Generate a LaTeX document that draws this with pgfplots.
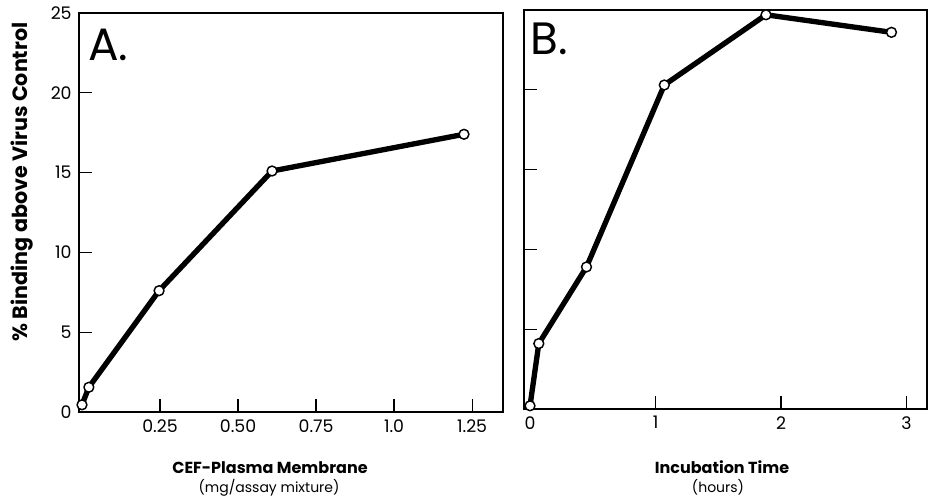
\documentclass[border=0pt]{standalone}
\usepackage{pgfplots}
\pgfplotsset{compat=1.18}
\usepackage{fontspec}
\setmainfont{Poppins}
\begin{document}
\begin{tikzpicture}
\useasboundingbox (0pt,0pt) rectangle (696pt,373.5pt);
\pgfplotsset{
  panel/.style={
    scale only axis,
    anchor=south west,
    axis line style={line width=1pt},
    tick align=inside,
    tick pos=left,
    major tick length=10pt,
    every tick/.style={black, line width=0.9pt},
    /pgf/number format/assume math mode=true,
    tick label style={font=\fontsize{13}{13}\selectfont},
    xticklabel style={yshift=-2pt},
    ymin=0, ymax=25,
    clip=false,
  },
  curve/.style={black, line width=4pt, line join=round,
    mark=*, mark size=3.7pt, mark options={fill=white, draw=black, line width=1.1pt, solid}},
}
\begin{axis}[panel,
  at={(59.25pt,64.5pt)}, width=318pt, height=299.25pt,
  xmin=-0.0096, xmax=1.349,
  xtick={0.25,0.5,0.75,1.0,1.25},
  xticklabels={0.25,0.50,0.75,1.0,1.25},
  ytick={0,5,10,15,20,25},
  yticklabels={0,5,10,15,20,25},
  yticklabel style={xshift=-2pt},
]
\addplot[curve] coordinates {(0.0,0.45) (0.022,1.55) (0.247,7.6) (0.609,15.1) (1.224,17.4)};
\end{axis}
\begin{axis}[panel,
  at={(393pt,66.75pt)}, width=302.25pt, height=299.25pt,
  xmin=-0.048, xmax=3.163,
  xtick={0,1,2,3},
  xticklabels={0,1,2,3},
  ytick={5,10,15,20},
  yticklabels={},
]
\addplot[curve] coordinates {(0,0.2) (0.07,4.1) (0.45,8.9) (1.07,20.3) (1.88,24.7) (2.88,23.6)};
\end{axis}
\node[rotate=90, font=\bfseries\fontsize{15.5}{16}\selectfont] at (16.5pt,237pt) {\% Binding above Virus Control};
\node[font=\bfseries\fontsize{12}{12}\selectfont] at (202.5pt,22.5pt) {CEF-Plasma Membrane};
\node[font=\fontsize{10.5}{10.5}\selectfont] at (201.75pt,7.5pt) {(mg/assay mixture)};
\node[font=\bfseries\fontsize{12}{12}\selectfont] at (541.5pt,23.25pt) {Incubation Time};
\node[font=\fontsize{10.5}{10.5}\selectfont] at (538.5pt,8.25pt) {(hours)};
\node[anchor=west, font=\fontsize{34}{34}\selectfont, inner sep=0pt] at (66pt,340pt) {A.};
\node[anchor=west, font=\fontsize{34}{34}\selectfont, inner sep=0pt] at (398pt,344pt) {B.};
\end{tikzpicture}
\end{document}
